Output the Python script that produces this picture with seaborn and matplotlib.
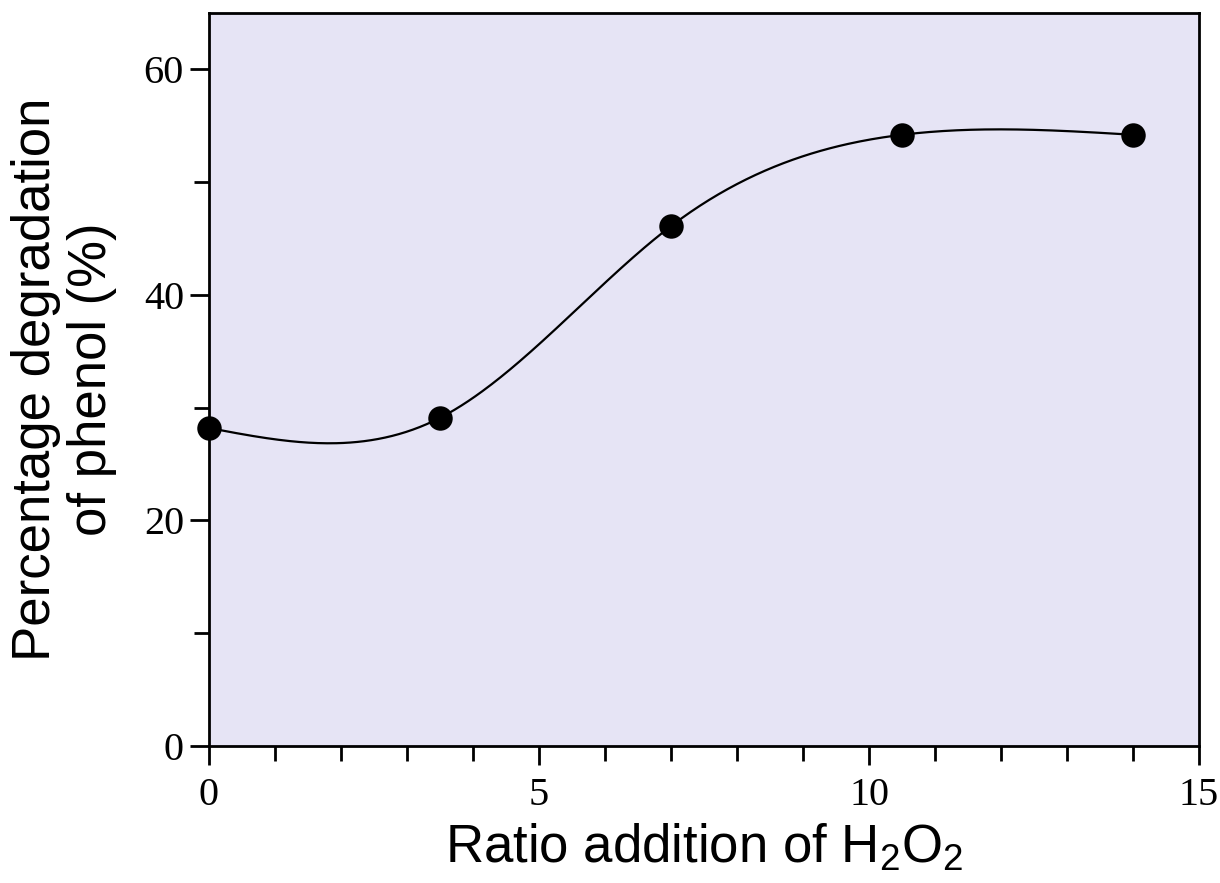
import numpy as np
import pandas as pd
import matplotlib
matplotlib.use("Agg")
import matplotlib.pyplot as plt
import seaborn as sns
from matplotlib.ticker import MultipleLocator

# data
ratio = [0, 3.5, 7, 10.5, 14]
degradation = [28.2, 29.1, 46.1, 54.2, 54.2]
x_ticks = [0, 5, 10, 15]
y_ticks = [0, 20, 40, 60]

sns.set_theme(style="ticks")
plt.rcParams["font.family"] = ["Liberation Sans", "DejaVu Sans"]
plt.rcParams["mathtext.default"] = "regular"
plt.rcParams["text.color"] = "black"
plt.rcParams["axes.labelcolor"] = "black"
plt.rcParams["xtick.color"] = "black"
plt.rcParams["ytick.color"] = "black"


def natural_spline(x, y, xs):
    x = np.asarray(x, float); y = np.asarray(y, float)
    n = len(x)
    h = np.diff(x)
    A = np.zeros((n, n)); b = np.zeros(n)
    A[0, 0] = 1; A[-1, -1] = 1
    for i in range(1, n - 1):
        A[i, i - 1] = h[i - 1]
        A[i, i] = 2 * (h[i - 1] + h[i])
        A[i, i + 1] = h[i]
        b[i] = 6 * ((y[i + 1] - y[i]) / h[i] - (y[i] - y[i - 1]) / h[i - 1])
    M = np.linalg.solve(A, b)
    out = np.empty_like(xs)
    for k, xv in enumerate(xs):
        i = min(max(np.searchsorted(x, xv) - 1, 0), n - 2)
        t1 = x[i + 1] - xv; t0 = xv - x[i]
        out[k] = (M[i] * t1 ** 3 + M[i + 1] * t0 ** 3) / (6 * h[i]) \
            + (y[i] / h[i] - M[i] * h[i] / 6) * t1 \
            + (y[i + 1] / h[i] - M[i + 1] * h[i] / 6) * t0
    return out


xs = np.linspace(ratio[0], ratio[-1], 400)
curve = pd.DataFrame({"x": xs, "y": natural_spline(ratio, degradation, xs)})
pts = pd.DataFrame({"x": ratio, "y": degradation})

fig = plt.figure(figsize=(12.2, 8.83), dpi=100)
ax = fig.add_axes([0.1713, 0.1551, 0.8115, 0.8302])
ax.set_facecolor("#E6E4F5")

sns.lineplot(data=curve, x="x", y="y", ax=ax, color="black", linewidth=1.6, sort=False)
sns.scatterplot(data=pts, x="x", y="y", ax=ax, color="black", s=310, edgecolor="black",
                linewidth=0, zorder=5, clip_on=False)

ax.set_xlim(0, 15)
ax.set_ylim(0, 65)
ax.set_xticks(x_ticks)
ax.set_yticks(y_ticks)
ax.xaxis.set_minor_locator(MultipleLocator(1))
ax.yaxis.set_minor_locator(MultipleLocator(10))
for s in ax.spines.values():
    s.set_linewidth(2)
    s.set_color("black")
    s.set_visible(True)
ax.tick_params(axis="both", which="major", direction="out", length=14, width=2, color="black")
ax.tick_params(axis="both", which="minor", direction="out", length=11, width=2, color="black")
ax.tick_params(axis="x", which="both", top=False)
ax.tick_params(axis="y", which="both", right=False)
for lab in ax.get_xticklabels() + ax.get_yticklabels():
    lab.set_fontfamily("Liberation Serif")
    lab.set_fontsize(29)
    lab.set_color("black")
ax.tick_params(axis="x", which="major", pad=8)
ax.tick_params(axis="y", which="major", pad=4)

ax.set_xlabel("Ratio addition of H$_2$O$_2$", fontsize=38, labelpad=6, color="black")
ax.set_ylabel("Percentage degradation\nof phenol (%)", fontsize=38, labelpad=19,
              linespacing=1.15, color="black")
ax.grid(False)

fig.savefig("out.png", dpi=100)
